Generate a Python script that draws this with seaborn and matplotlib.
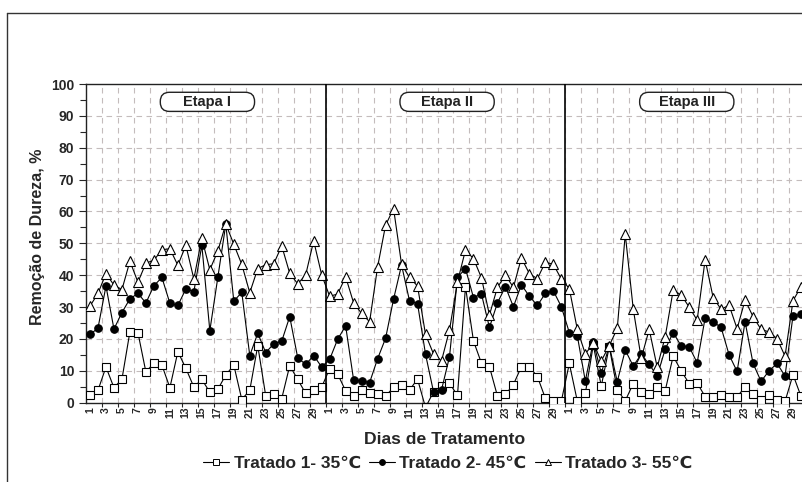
import matplotlib
matplotlib.use("Agg")
import matplotlib.pyplot as plt
import seaborn as sns
import pandas as pd
from matplotlib.patches import FancyBboxPatch
from matplotlib.lines import Line2D

etapas = ["Etapa I", "Etapa II", "Etapa III"]
dias = list(range(1, 31))

# Tratado 1 - 35 C (etapa I, II, III)
tratado1 = [2.3, 3.9, 11.2, 4.7, 7.4, 22.3, 22.0, 9.6, 12.5, 11.8,
            4.7, 16.0, 10.8, 4.9, 7.3, 3.3, 4.2, 8.7, 11.8, 1.0,
            3.9, 17.9, 2.1, 2.6, 1.3, 11.6, 7.3, 2.9, 4.0, 4.9,
            10.7, 9.0, 3.7, 2.1, 4.1, 3.1, 2.6, 2.1, 4.8, 5.7,
            4.0, 7.4, -1.5, 3.4, 5.2, 6.1, 2.3, 36.4, 19.4, 12.4,
            11.3, 2.1, 2.6, 5.7, 11.3, 11.3, 8.2, 1.4, 0.5, 0.5,
            12.3, 0.5, 2.9, 18.1, 5.2, 17.6, 4.0, 0.6, 6.0, 3.4,
            2.7, 5.0, 3.8, 14.6, 10.0, 6.0, 6.2, 1.9, 1.9, 2.4,
            1.8, 1.9, 4.9, 2.8, 0.8, 2.5, 1.0, 0.4, 8.8, 2.0]

# Tratado 2 - 45 C
tratado2 = [21.4, 23.4, 36.6, 23.1, 28.3, 32.6, 34.3, 31.3, 36.7, 39.3,
            31.2, 30.5, 35.7, 34.8, 49.4, 22.6, 39.3, 56.0, 31.9, 34.6,
            14.8, 21.8, 15.7, 18.5, 19.3, 27.0, 14.1, 12.0, 14.8, 11.2,
            13.6, 19.9, 24.1, 7.1, 6.9, 6.3, 13.8, 20.2, 32.5, 43.2,
            31.9, 31.1, 15.2, 3.4, 4.0, 14.4, 39.3, 42.1, 33.0, 34.1,
            23.6, 31.3, 36.4, 30.1, 37.0, 33.4, 30.5, 34.3, 35.1, 30.1,
            22.0, 21.0, 6.8, 19.2, 9.2, 17.9, 6.6, 16.5, 11.5, 15.2,
            12.0, 8.4, 16.8, 22.0, 17.8, 17.6, 12.5, 26.6, 25.4, 23.6,
            15.0, 9.8, 25.4, 12.3, 6.7, 10.0, 12.3, 8.4, 27.3, 27.7]

# Tratado 3 - 55 C
tratado3 = [30.3, 34.3, 40.5, 36.9, 35.5, 44.4, 37.8, 43.8, 44.7, 48.0,
            48.3, 43.1, 49.4, 38.8, 51.6, 41.7, 47.6, 56.1, 49.7, 43.4,
            34.5, 42.1, 43.3, 43.6, 49.2, 40.6, 37.3, 40.1, 50.8, 40.1,
            33.4, 34.1, 39.5, 31.3, 28.0, 25.4, 42.6, 55.7, 60.9, 43.4,
            39.3, 36.6, 21.4, 15.3, 13.1, 22.8, 37.9, 47.9, 45.2, 39.2,
            27.5, 36.2, 40.0, 36.2, 45.4, 40.5, 38.9, 44.1, 43.4, 38.8,
            35.8, 23.0, 15.3, 18.6, 13.1, 17.9, 23.3, 52.9, 29.4, 13.9,
            23.0, 11.1, 20.7, 35.3, 33.8, 30.0, 25.9, 44.9, 33.0, 29.3,
            30.6, 23.2, 32.2, 27.0, 23.0, 22.2, 20.1, 14.6, 32.0, 36.4]

rotulos = ["Tratado 1- 35\u2103", "Tratado 2- 45\u2103", "Tratado 3- 55\u2103"]

df = pd.DataFrame({"pos": range(len(tratado1)), "dia": dias * 3,
                   "t1": tratado1, "t2": tratado2, "t3": tratado3})

sns.set_style("ticks")
plt.rcParams['font.family'] = ['Liberation Sans', 'DejaVu Sans']
plt.rcParams['font.weight'] = 'bold'

fig = plt.figure(figsize=(8.03, 4.82), dpi=100)
ax = fig.add_axes([86 / 803, 1 - 402.7 / 482, (805 - 86) / 803, (402.7 - 84) / 482])

gridcol = '#c4bcbc'
limites = [x + 0.5 for x in range(1, 89, 2)]
for x in limites:
    ax.axvline(x, color=gridcol, lw=0.8, ls=(0, (5, 4)), zorder=0)
for y in range(10, 100, 10):
    ax.axhline(y, color=gridcol, lw=0.8, ls=(0, (5, 4)), zorder=0)

estilos = [dict(marker='s', ms=5.6, mfc='white'),
           dict(marker='o', ms=5.4, mfc='black'),
           dict(marker='^', ms=6.6, mfc='white')]
for col, est in zip(["t1", "t2", "t3"], estilos):
    sns.lineplot(data=df, x="pos", y=col, ax=ax, color='black', lw=0.8,
                 mec='black', mew=0.8, legend=False, zorder=3, **est)

# divisions between stages
for x in [29.5, 59.5]:
    ax.axvline(x, color='black', lw=1.2, zorder=4)

# stage labels in rounded boxes
asp = (1 / 3.187) / (1 / 7.95)
for i, nome in enumerate(etapas):
    cx = 30 * i + 14.7
    box = FancyBboxPatch((cx - 5.9, 91.4), 11.8, 6.0,
                         boxstyle="round,pad=0,rounding_size=1.15",
                         mutation_aspect=asp, fc='white', ec='#222222',
                         lw=1.0, zorder=5)
    ax.add_patch(box)
    ax.text(cx, 94.4, nome, ha='center', va='center', fontsize=10.5,
            fontweight='bold', color='#222222', zorder=6)

ax.set_xlim(-0.5, 89.5)
ax.set_ylim(0, 100)
ax.set_xticks(df["pos"][::2])
ax.set_xticklabels(df["dia"][::2], rotation=90, fontsize=7.5, fontweight='bold')
ax.set_xticks(limites, minor=True)
ax.tick_params(axis='x', which='major', length=0, pad=3)
ax.tick_params(axis='x', which='minor', length=3, width=0.8)
ax.set_yticks(range(0, 101, 10))
ax.set_yticks(range(5, 100, 10), minor=True)
ax.tick_params(axis='y', which='major', length=5, width=0.8, labelsize=10)
ax.tick_params(axis='y', which='minor', length=4, width=0.8)
for lab in ax.get_yticklabels():
    lab.set_fontweight('bold')
ax.set_xlabel("")
ax.set_ylabel("")
ax.spines['right'].set_visible(False)
for s in ['left', 'top', 'bottom']:
    ax.spines[s].set_linewidth(1.0)
    ax.spines[s].set_color('#222222')

fig.text(38 / 803, 1 - 237 / 482, "Remoção de Dureza, %", rotation=90,
         ha='center', va='center', fontsize=11.5, fontweight='bold')
fig.text(445 / 803, 1 - 439 / 482, "Dias de Tratamento", ha='center',
         va='center', fontsize=12.6, fontweight='bold')

handles = [Line2D([], [], color='black', lw=0.8, mec='black', mew=0.7,
                  marker=e['marker'], mfc=e['mfc'], ms=4.2) for e in estilos]
fig.legend(handles, rotulos, loc='center', bbox_to_anchor=(448 / 803, 1 - 463 / 482),
           ncol=3, frameon=False, prop=dict(size=12.4, weight='bold'),
           handlelength=1.5, handletextpad=0.25, columnspacing=0.5)

# outer frame
fig.add_artist(Line2D([7 / 803, 7 / 803], [0, 1 - 13 / 482], transform=fig.transFigure,
                      color='#333333', lw=1))
fig.add_artist(Line2D([7 / 803, 1], [1 - 13 / 482, 1 - 13 / 482], transform=fig.transFigure,
                      color='#333333', lw=1))

fig.savefig("out.png", dpi=100)
